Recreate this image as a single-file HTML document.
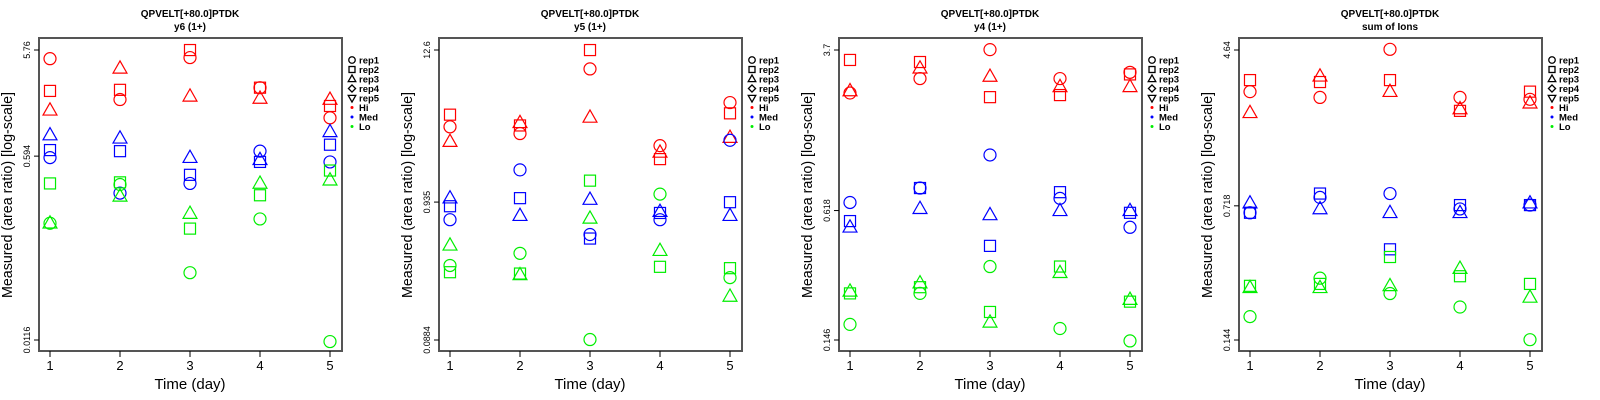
<!DOCTYPE html>
<html><head><meta charset="utf-8">
<style>
html,body{margin:0;padding:0;background:#fff;}
svg{display:block;font-family:"Liberation Sans",sans-serif;}
</style></head>
<body>
<svg id="chart" width="1600" height="400" viewBox="0 0 1600 400"></svg>
<script>
const days = [1, 2, 3, 4, 5];
const groups = ["Hi", "Med", "Lo"];
const reps = ["rep1", "rep2", "rep3"];
const legendLabels = ["rep1", "rep2", "rep3", "rep4", "rep5", "Hi", "Med", "Lo"];
const panelTitles = ["QPVELT[+80.0]PTDK", "QPVELT[+80.0]PTDK", "QPVELT[+80.0]PTDK", "QPVELT[+80.0]PTDK"];
const panelSubtitles = ["y6 (1+)", "y5 (1+)", "y4 (1+)", "sum of Ions"];
const yTickLabels = [["5.76", "0.594", "0.0116"], ["12.6", "0.935", "0.0884"], ["3.7", "0.618", "0.146"], ["4.64", "0.718", "0.144"]];
const yMaxVals = [5.76, 12.6, 3.7, 4.64];
const yMinVals = [0.0116, 0.0884, 0.146, 0.144];
// log10 area ratio, [group][rep][day]
const p1 = [
  [[0.68,0.30,0.69,0.41,0.13],[0.38,0.39,0.76,0.41,0.24],[0.20,0.59,0.33,0.31,0.30]],
  [[-0.24,-0.57,-0.48,-0.18,-0.28],[-0.17,-0.18,-0.40,-0.28,-0.12],[-0.03,-0.06,-0.24,-0.26,0.00]],
  [[-0.85,-0.49,-1.31,-0.81,-1.95],[-0.48,-0.47,-0.90,-0.59,-0.36],[-0.85,-0.60,-0.76,-0.48,-0.45]]
];
const p2 = [
  [[0.53,0.48,0.96,0.39,0.71],[0.62,0.54,1.10,0.29,0.63],[0.42,0.56,0.60,0.34,0.45]],
  [[-0.16,0.21,-0.27,-0.16,0.43],[-0.06,0.00,-0.30,-0.11,-0.03],[0.00,-0.13,-0.01,-0.10,-0.13]],
  [[-0.50,-0.41,-1.05,0.03,-0.59],[-0.55,-0.56,0.13,-0.51,-0.52],[-0.35,-0.57,-0.15,-0.39,-0.73]]
];
const p3 = [
  [[0.36,0.43,0.57,0.43,0.46],[0.52,0.51,0.34,0.35,0.45],[0.37,0.48,0.44,0.39,0.39]],
  [[-0.17,-0.10,0.06,-0.15,-0.29],[-0.26,-0.10,-0.38,-0.12,-0.22],[-0.29,-0.20,-0.23,-0.21,-0.21]],
  [[-0.76,-0.61,-0.48,-0.78,-0.84],[-0.61,-0.58,-0.70,-0.48,-0.65],[-0.60,-0.56,-0.75,-0.51,-0.64]]
];
const p4 = [
  [[0.45,0.42,0.67,0.42,0.41],[0.51,0.50,0.51,0.35,0.45],[0.34,0.53,0.45,0.36,0.39]],
  [[-0.18,-0.10,-0.08,-0.16,-0.14],[-0.18,-0.08,-0.37,-0.14,-0.14],[-0.13,-0.16,-0.18,-0.18,-0.13]],
  [[-0.72,-0.52,-0.60,-0.67,-0.84],[-0.56,-0.55,-0.41,-0.51,-0.55],[-0.57,-0.57,-0.56,-0.47,-0.62]]
];
const panelData = [p1, p2, p3, p4];

const NS = "http://www.w3.org/2000/svg";
const svg = document.getElementById("chart");
const colors = {Hi: "#ff0000", Med: "#0000ff", Lo: "#00ee00"};
function mk(tag, attrs, parent) {
  const e = document.createElementNS(NS, tag);
  for (const k in attrs) e.setAttribute(k, attrs[k]);
  parent.appendChild(e);
  return e;
}
function drawMarker(g, shape, cx, cy, size, color, sw) {
  let e;
  if (shape === 0) e = mk("circle", {cx: cx, cy: cy, r: size * 0.5}, g);
  else if (shape === 1) e = mk("rect", {x: cx - size * 0.46, y: cy - size * 0.46, width: size * 0.92, height: size * 0.92}, g);
  else if (shape === 2) e = mk("polygon", {points: `${cx},${cy - size * 0.62} ${cx - size * 0.58},${cy + size * 0.4} ${cx + size * 0.58},${cy + size * 0.4}`}, g);
  else if (shape === 3) e = mk("polygon", {points: `${cx},${cy - size * 0.55} ${cx + size * 0.55},${cy} ${cx},${cy + size * 0.55} ${cx - size * 0.55},${cy}`}, g);
  else e = mk("polygon", {points: `${cx},${cy + size * 0.62} ${cx - size * 0.58},${cy - size * 0.4} ${cx + size * 0.58},${cy - size * 0.4}`}, g);
  e.setAttribute("fill", "none");
  e.setAttribute("stroke", color);
  e.setAttribute("stroke-width", sw);
  return e;
}

for (let p = 0; p < 4; p++) {
  const ox = p * 400;
  const g = mk("g", {transform: `translate(${ox},0)`}, svg);
  
  
  const boxL = 39, boxR = 342, boxT = 38, boxB = 351;
  const lmax = Math.log10(yMaxVals[p]), lmin = Math.log10(yMinVals[p]);
  const yScale = v => 50 + (lmax - v) / (lmax - lmin) * 290;
  const xScale = d => 50 + (d - 1) * 70;

  const t1 = mk("text", {x: 190, y: 17, "text-anchor": "middle", "font-size": 10, "font-weight": "bold", fill: "#000"}, g);
  t1.textContent = panelTitles[p];
  
  
  const t2 = mk("text", {x: 190, y: 30, "text-anchor": "middle", "font-size": 10, "font-weight": "bold", fill: "#000"}, g);
  t2.textContent = panelSubtitles[p];
  
  

  const box = mk("rect", {x: boxL, y: boxT, width: boxR - boxL, height: boxB - boxT, fill: "none", stroke: "#555", "stroke-width": 2}, g);
  
  

  // x ticks
  days.forEach(d => {
    const x = xScale(d);
    const tk = mk("line", {x1: x, y1: boxB, x2: x, y2: boxB + 6, stroke: "#000", "stroke-width": 1}, g);
    
    
    const lb = mk("text", {x: x, y: 370, "text-anchor": "middle", "font-size": 13, fill: "#000"}, g);
    lb.textContent = String(d);
    
    
  });
  const xt = mk("text", {x: 190, y: 389, "text-anchor": "middle", "font-size": 15, fill: "#000"}, g);
  xt.textContent = "Time (day)";
  
  

  // y ticks
  yTickLabels[p].forEach(s => {
    const y = yScale(Math.log10(parseFloat(s)));
    const tk = mk("line", {x1: boxL - 5, y1: y, x2: boxL, y2: y, stroke: "#000", "stroke-width": 1}, g);
    
    
    const lb = mk("text", {x: 0, y: 0, transform: `translate(30,${y}) rotate(-90)`, "text-anchor": "middle", "font-size": 9, fill: "#000"}, g);
    lb.textContent = s;
    
    
  });
  const yt = mk("text", {x: 0, y: 0, transform: `translate(12,195) rotate(-90)`, "text-anchor": "middle", "font-size": 15, textLength: 206, lengthAdjust: "spacingAndGlyphs", fill: "#000"}, g);
  yt.textContent = "Measured (area ratio) [log-scale]";
  
  

  // points
  const data = panelData[p];
  groups.forEach((grp, gi) => {
    reps.forEach((rp, ri) => {
      days.forEach((d, di) => {
        const m = drawMarker(g, ri, xScale(d), yScale(data[gi][ri][di]), 12, colors[grp], 1.2);
        
        
      });
    });
  });

  // legend
  const lg = mk("g", {}, g);
  
  
  legendLabels.forEach((lab, i) => {
    const y = 60 + i * 9.5;
    if (i < 5) {
      const m = drawMarker(lg, i, 352, y, 6.5, "#000", 1.3);
      
      
    } else {
      const c = mk("circle", {cx: 352, cy: y, r: 1.5, fill: colors[lab]}, lg);
      
      
    }
    const tx = mk("text", {x: 359, y: y + 3.5, "font-size": 9.5, "font-weight": "bold", fill: "#000"}, lg);
    tx.textContent = lab;
    
    
  });
}
</script>
</body></html>
